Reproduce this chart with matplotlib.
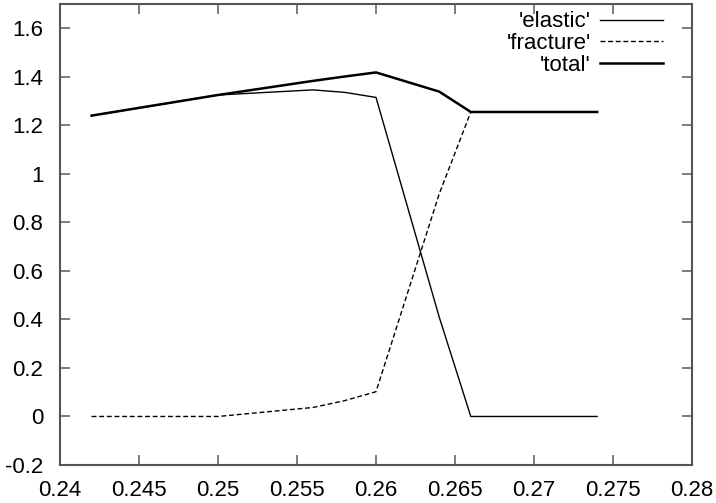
import matplotlib
matplotlib.use("Agg")
from matplotlib import pyplot as plt
import numpy as np

x = [0.242, 0.25, 0.256, 0.258, 0.26, 0.264, 0.266, 0.274]
elastic = [1.24, 1.325, 1.346, 1.336, 1.315, 0.41, 0.0, 0.0]
fracture = [0.0, 0.0, 0.037, 0.065, 0.102, 0.917, 1.255, 1.255]
total = [1.24, 1.325, 1.383, 1.401, 1.418, 1.339, 1.255, 1.255]

xticks = np.arange(0.24, 0.2801, 0.005)
yticks = np.arange(-0.2, 1.61, 0.2)

plt.rcParams['font.family'] = ['Liberation Sans', 'DejaVu Sans']

fig = plt.figure(figsize=(7.16, 5.03), dpi=100)
# axes box in pixels: left 60, right 692, top 4, bottom 465
ax = fig.add_axes([60 / 716, 38 / 503, 632 / 716, 461 / 503])

ax.plot(x, elastic, color='black', lw=1.0, label="'elastic'")
ax.plot(x, fracture, color='black', lw=1.0, dashes=(3.5, 2), label="'fracture'")
ax.plot(x, total, color='black', lw=1.8, label="'total'")

ax.set_xlim(0.24, 0.28)
ax.set_ylim(-0.2, 1.7)
ax.set_xticks(xticks)
ax.set_xticklabels(['%g' % round(v, 3) for v in xticks])
ax.set_yticks(yticks)
ax.set_yticklabels(['%g' % round(v, 1) for v in yticks])
ax.tick_params(direction='in', length=7, width=1.2, color='#666666',
               top=True, right=True, labelsize=16)
ax.tick_params(axis='x', pad=10.5)
ax.tick_params(axis='y', pad=12)
for s in ax.spines.values():
    s.set_color('#555555')
    s.set_linewidth(1.5)

leg = ax.legend(loc='upper right', bbox_to_anchor=(0.954, 0.984), frameon=False,
                markerfirst=False, fontsize=16, handlelength=2.84,
                handletextpad=0.4, labelspacing=0.04, borderaxespad=0,
                borderpad=0)
for t in leg.get_texts():
    t.set_ha('right')

fig.savefig("out.png", dpi=100)
